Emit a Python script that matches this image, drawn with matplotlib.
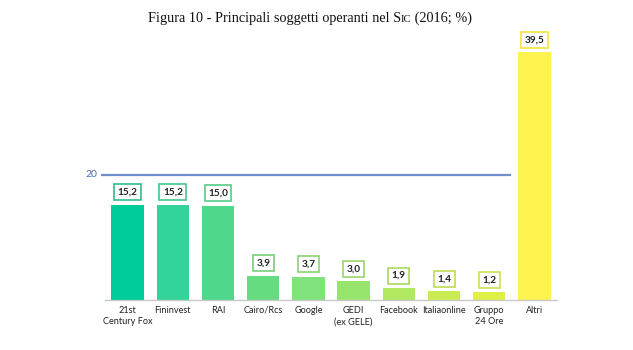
import matplotlib
matplotlib.use("Agg")
import matplotlib.pyplot as plt

categories = ["21st\nCentury Fox", "Fininvest", "RAI", "Cairo/Rcs", "Google",
              "GEDI\n(ex GELE)", "Facebook", "Italiaonline", "Gruppo\n24 Ore", "Altri"]
values = [15.2, 15.2, 15.0, 3.9, 3.7, 3.0, 1.9, 1.4, 1.2, 39.5]
labels = ["15,2", "15,2", "15,0", "3,9", "3,7", "3,0", "1,9", "1,4", "1,2", "39,5"]
ref_value = 20
ref_label = "20"
colors = ["#00CC9A", "#33D39A", "#4FD78C", "#66DC80", "#7FE27A",
          "#98E56E", "#B0E85F", "#C8EC52", "#DDF045", "#FFF34F"]
edge_colors = ["#2EBF8A", "#3FC88E", "#55CC85", "#74CF78", "#88D472",
               "#9CD66A", "#ACD960", "#BDDC55", "#CCDF50", "#F2E33A"]

W, H = 633, 350
fig = plt.figure(figsize=(W / 100, H / 100), dpi=100)
ax = fig.add_axes([105 / W, 50 / H, 452 / W, 250.8 / H])

x = list(range(len(categories)))
ax.bar(x, values, width=0.72, color=colors, zorder=2)
ax.set_xlim(-0.5, 9.5)
ax.set_ylim(0, 40)

for s in ["top", "right", "left"]:
    ax.spines[s].set_visible(False)
ax.spines["bottom"].set_color("#C8C8C8")
ax.spines["bottom"].set_linewidth(1.0)
ax.set_yticks([])
ax.set_xticks(x)
ax.set_xticklabels(categories, fontsize=6.6, family="Lato", color="#222222",
                   linespacing=1.4)
ax.tick_params(axis="x", length=0, pad=4)

# reference line at 20
ax.plot([-0.58, 8.48], [ref_value, ref_value], color="#6E8FCB", lw=1.6,
        clip_on=False, zorder=3, solid_capstyle="butt")
ax.text(-0.68, ref_value, ref_label, ha="right", va="center", fontsize=7.5,
        family="Lato", color="#4A6DAF")

# value labels in boxes
for xi, v, lab, ec in zip(x, values, labels, edge_colors):
    ax.annotate(lab, (xi, v), xytext=(0, 9), textcoords="offset points",
                ha="center", va="center", fontsize=7.2, family="Lato",
                fontweight="bold", color="#222222",
                bbox=dict(boxstyle="square,pad=0.35", fc="white", ec=ec, lw=1.2),
                annotation_clip=False)

# title with small-caps "Sic"
renderer = fig.canvas.get_renderer()
parts = [("Figura 10 - Principali soggetti operanti nel S", 10.3),
         ("IC", 7.7), (" (2016; %)", 10.3)]
texts = []
for s, fs in parts:
    t = fig.text(0, 0, s, fontsize=fs, family="Liberation Serif", color="#111111",
                 va="baseline", ha="left")
    texts.append(t)
widths = [t.get_window_extent(renderer).width for t in texts]
total = sum(widths)
xstart = 310 - total / 2
ybase = (H - 22) / H
cx = xstart
for t, w in zip(texts, widths):
    t.set_position((cx / W, ybase))
    cx += w

fig.savefig("out.png", dpi=100)
